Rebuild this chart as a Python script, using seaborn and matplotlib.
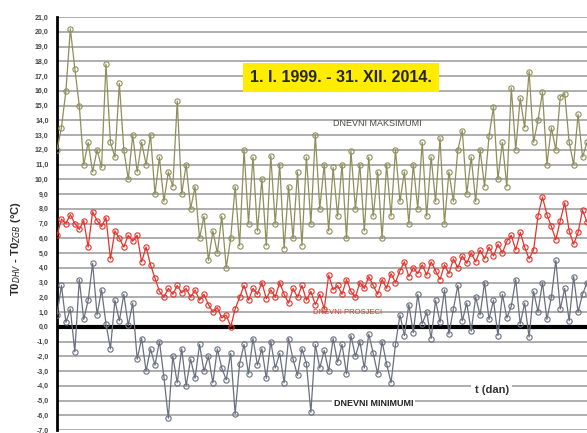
import numpy as np
import pandas as pd
import seaborn as sns
import matplotlib.pyplot as plt

# daily differences T0 DHV - T0 ZGB
maksimumi = [
    12.0, 13.5, 16.0, 20.2, 17.5, 15.0, 11.0, 12.5, 10.5, 12.0,
    10.8, 17.8, 12.5, 11.5, 16.5, 12.0, 10.0, 13.0, 10.5, 12.5,
    11.0, 13.0, 9.0, 11.5, 8.5, 10.5, 9.5, 15.3, 9.0, 11.0,
    8.0, 9.5, 6.0, 7.5, 4.5, 6.5, 5.0, 7.5, 4.0, 6.0,
    9.5, 5.5, 12.0, 7.0, 11.5, 6.5, 10.0, 5.5, 11.6, 7.0,
    11.0, 5.3, 9.5, 6.0, 10.5, 5.5, 11.5, 7.0, 13.0, 8.0,
    11.0, 6.5, 10.8, 7.5, 11.0, 6.0, 11.9, 8.0, 11.0, 6.5,
    11.5, 7.5, 10.5, 6.0, 11.0, 7.5, 12.0, 8.5, 10.5, 7.0,
    11.0, 8.0, 12.5, 7.5, 11.5, 8.5, 12.8, 7.0, 10.5, 8.5,
    12.0, 13.3, 9.0, 11.5, 8.5, 12.0, 9.5, 12.9, 14.9, 10.0,
    12.5, 9.5, 16.2, 12.0, 15.5, 13.5, 17.3, 12.5, 14.0, 15.9,
    11.0, 13.5, 12.0, 15.6, 15.8, 12.5, 11.0, 14.4, 11.5, 12.5,
]
prosjeci = [
    6.2, 7.3, 7.0, 7.6, 7.0, 6.6, 7.2, 5.4, 7.8, 7.2,
    6.8, 7.4, 4.6, 6.5, 6.0, 5.4, 6.2, 5.8, 6.2, 4.4,
    5.4, 4.2, 3.3, 2.4, 2.0, 2.6, 2.2, 2.8, 2.3, 2.6,
    2.0, 2.5, 1.8, 2.2, 1.5, 1.0, 1.3, 0.6, 0.8, 0.0,
    1.2, 2.0, 2.8, 1.8, 2.6, 2.2, 3.0, 1.9, 2.5, 2.0,
    3.0, 2.2, 1.6, 2.6, 2.0, 2.8, 1.8, 2.4, 1.5, 2.2,
    1.2, 3.5, 2.5, 2.8, 2.2, 3.2, 2.4, 2.0, 3.0, 2.6,
    3.4, 2.8, 2.2, 3.2, 2.6, 3.6, 3.0, 3.8, 4.4, 3.4,
    4.0, 3.6, 4.2, 3.5, 4.4, 3.8, 3.2, 4.2, 3.6, 4.6,
    4.0, 4.8, 4.3, 5.0, 4.4, 5.2, 4.6, 5.4, 4.8, 5.6,
    5.0, 5.8, 6.2, 5.2, 6.4, 5.4, 4.6, 5.2, 7.5, 8.8,
    7.6, 6.8, 5.9, 7.2, 8.4, 6.5, 5.6, 6.4, 7.9, 7.1,
]
minimumi = [
    0.8, 2.8, 0.3, 1.2, -1.7, 3.2, 0.5, 1.8, 4.3, 0.8,
    2.5, 0.2, -1.5, 1.8, 0.4, 2.2, 0.1, 1.6, -2.2, -0.8,
    -3.0, -1.5, -2.6, -1.0, -3.4, -6.2, -2.0, -3.8, -1.5, -4.0,
    -2.2, -3.5, -1.2, -3.0, -2.0, -3.8, -1.5, -2.8, -3.6, -1.8,
    -5.9, -2.5, -1.2, -3.2, -0.8, -2.6, -1.5, -3.5, -1.0, -2.8,
    -1.8, -3.8, -0.8, -2.2, -3.3, -1.5, -2.5, -5.8, -1.2, -2.8,
    -1.6, -3.0, -0.8, -2.4, -1.2, -3.2, -0.6, -2.0, -1.0, -2.8,
    -0.5, -1.8, -3.2, -1.0, -2.5, -3.8, -1.2, 0.8, -0.6, 1.5,
    -0.4, 2.2, 0.2, 1.0, -0.8, 1.8, 0.3, 2.5, -0.5, 1.2,
    2.8, 0.4, 1.6, -0.3, 2.0, 0.8, 3.0, 0.5, 1.8, -0.6,
    2.2, 0.6, 1.4, 3.2, 0.2, 1.6, -0.7, 2.4, 1.0, 3.0,
    0.5, 2.0, 4.5, 1.2, 2.6, 0.4, 3.4, 1.0, 2.2, 3.0,
]
y_ticks = list(range(-7, 22))

df = pd.DataFrame({
    "dan": np.arange(len(maksimumi)),
    "maks": maksimumi,
    "prosjek": prosjeci,
    "min": minimumi,
})

sns.set_style("white")
plt.rcParams["font.family"] = ["Liberation Sans", "DejaVu Sans"]

fig = plt.figure(figsize=(5.87, 4.33), dpi=100)
ax = fig.add_axes([57 / 587, 3 / 433, 530 / 587, 413 / 433])

for v in y_ticks:
    ax.axhline(v, color="#a8a8a8", lw=1.3, zorder=0)
ax.axhline(0, color="black", lw=3, zorder=1)

styles = [
    ("maks", "#8f8f5c"),
    ("prosjek", "#e5332a"),
    ("min", "#6b7080"),
]
for col, c in styles:
    sns.lineplot(data=df, x="dan", y=col, ax=ax, color=c, lw=0.9,
                 marker="o", markersize=3.8, markerfacecolor="none",
                 markeredgecolor=c, markeredgewidth=0.8, zorder=3)

ax.set_xlim(0, len(maksimumi) - 1)
ax.set_ylim(-7, 21)
ax.set_yticks(y_ticks)
ax.set_yticklabels([f"{v:.1f}".replace(".", ",") for v in y_ticks],
                   fontsize=5, fontweight="bold", color="#444444")
ax.set_xticks([])
ax.set_xlabel("")
ax.tick_params(axis="y", length=3, width=1, pad=3)
for s in ["top", "right", "bottom"]:
    ax.spines[s].set_visible(False)
ax.spines["left"].set_linewidth(2)
ax.spines["left"].set_color("black")

ax.set_ylabel(r"T0$_{DHV}$ - T0$_{ZGB}$ (°C)", fontsize=8, fontweight="bold",
              labelpad=6)
ax.yaxis.set_label_coords(-0.065, 0.44)

tr = ax.get_yaxis_transform()
ax.text(0.536, 16.9, "1. I. 1999. - 31. XII. 2014.", transform=tr,
        ha="center", va="center", fontsize=11.5, fontweight="bold",
        bbox=dict(boxstyle="square,pad=0.45", fc="#ffec00", ec="none"), zorder=5)
ax.text(0.604, 13.75, "DNEVNI MAKSIMUMI", transform=tr,
        ha="center", va="center", fontsize=6.5, color="#4a4a3a", zorder=5)
ax.text(0.548, 1.0, "DNEVNI PROSJECI", transform=tr,
        ha="center", va="center", fontsize=5.5, color="#e5332a", zorder=5)
ax.text(0.598, -5.2, "DNEVNI MINIMUMI", transform=tr,
        ha="center", va="center", fontsize=6.5, fontweight="bold", color="#222222",
        bbox=dict(boxstyle="square,pad=0.2", fc="white", ec="none"), zorder=5)
ax.text(0.82, -4.27, "t (dan)", transform=tr,
        ha="center", va="center", fontsize=8, fontweight="bold", color="#333333",
        bbox=dict(boxstyle="square,pad=0.3", fc="white", ec="none"), zorder=5)

fig.savefig("out.png", dpi=100)
